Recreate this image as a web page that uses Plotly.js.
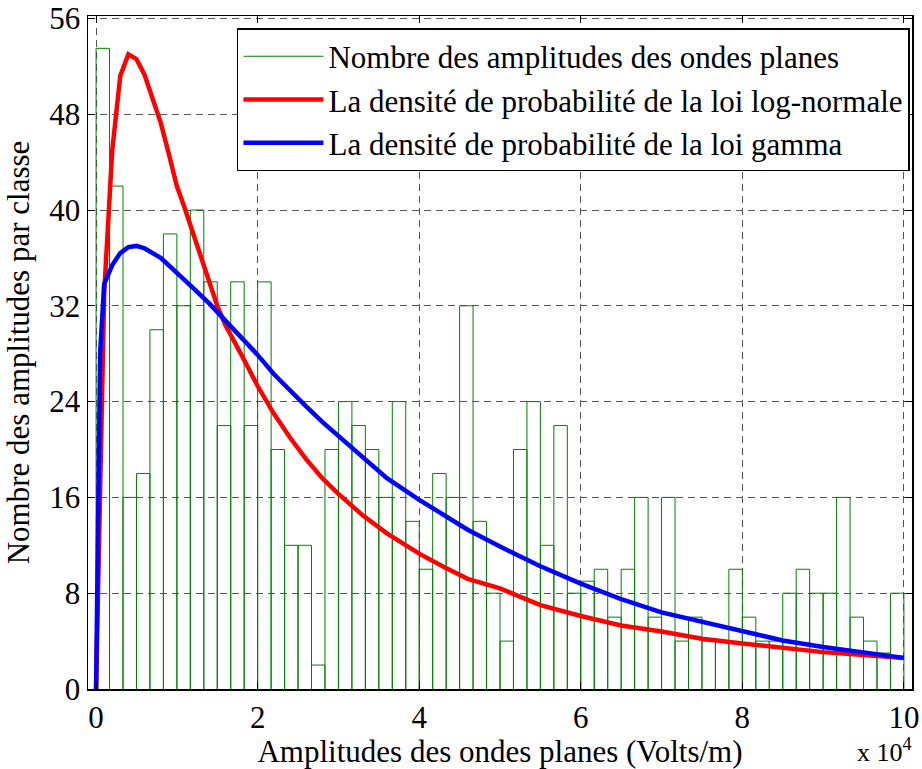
<!DOCTYPE html>
<html>
<head>
<meta charset="utf-8">
<script src="https://cdn.plot.ly/plotly-3.0.1.min.js"></script>
<style>
  html, body { margin: 0; padding: 0; background: #ffffff; }
  #chart { width: 922px; height: 769px; }
</style>
</head>
<body>
<div id="chart"></div>
<script>
// ---------------- data (x in units of 10^4 V/m) ----------------
const binStart = 0;          // left edge of first class
const binWidth = 1 / 6;      // class width
const classCounts = [
  53.5, 42, 16, 18, 30, 38, 32, 40, 34, 22,
  34, 22, 34, 20, 12, 12, 2, 20, 24, 22,
  20, 16, 24, 14, 10, 18, 16, 32, 14, 8,
  4, 20, 24, 12, 22, 8, 9, 10, 6, 10,
  16, 6, 16, 4, 6, 4, 4, 10, 6, 4,
  4, 8, 10, 8, 8, 16, 6, 4, 3, 8
];

const logNormX = [0, 0.1, 0.2, 0.3, 0.4, 0.5, 0.6, 0.7, 0.8, 0.9,
  1.0, 1.1, 1.2, 1.3, 1.4, 1.5, 1.6, 1.7, 1.8, 1.9,
  2.0, 2.2, 2.4, 2.6, 2.8, 3.0, 3.3, 3.6, 4.0, 4.3,
  4.6, 5.0, 5.5, 6.0, 6.5, 7.0, 7.5, 8.0, 8.5, 9.0, 9.5, 10.0];
const logNormY = [0, 33, 45, 51.2, 53, 52.6, 51.3, 49.3, 47.3, 44.7,
  42.0, 40.1, 38.1, 35.9, 33.9, 32.0, 30.4, 29.2, 27.9, 26.6,
  25.3, 23.0, 21.0, 19.2, 17.6, 16.3, 14.5, 13.0, 11.3, 10.2,
  9.2, 8.4, 7.0, 6.1, 5.3, 4.8, 4.2, 3.8, 3.4, 3.08, 2.83, 2.58];

const gammaX = [0, 0.05, 0.1, 0.2, 0.3, 0.4, 0.5, 0.6, 0.8, 1.0,
  1.2, 1.4, 1.6, 1.8, 2.0, 2.2, 2.4, 2.6, 2.8, 3.0,
  3.3, 3.6, 4.0, 4.3, 4.6, 5.0, 5.5, 6.0, 6.5, 7.0,
  7.5, 8.0, 8.5, 9.0, 9.5, 10.0];
const gammaY = [0, 28, 33.8, 35.4, 36.4, 36.9, 37.0, 36.8, 36.0, 34.8,
  33.5, 32.2, 30.8, 29.4, 27.9, 26.3, 24.9, 23.6, 22.3, 21.1,
  19.3, 17.6, 15.8, 14.5, 13.3, 11.9, 10.25, 8.8, 7.5, 6.4,
  5.6, 4.8, 4.05, 3.5, 3.03, 2.6];

const xTickVals = [0, 2, 4, 6, 8, 10];
const xTickText = ['0', '2', '4', '6', '8', '10'];
const yTickVals = [0, 8, 16, 24, 32, 40, 48, 56];
const yTickText = ['0', '8', '16', '24', '32', '40', '48', '56'];

const legendNames = [
  'Nombre des amplitudes des ondes planes',
  'La densité de probabilité de la loi log-normale',
  'La densité de probabilité de la loi gamma'
];

// ---------------- histogram outlines built from the counts ----------------
const histX = [], histY = [];
classCounts.forEach(function (c, i) {
  const a = binStart + i * binWidth, b = a + binWidth;
  histX.push(a, a, b, b, null);
  histY.push(0, c, c, 0, null);
});

const FONT = 'Liberation Serif, Times New Roman, serif';
const FS = 31;

const traces = [
  {
    type: 'scatter', mode: 'lines', x: histX, y: histY,
    name: legendNames[0], connectgaps: false,
    line: { color: '#008000', width: 1 }, hoverinfo: 'skip'
  },
  {
    type: 'scatter', mode: 'lines', x: logNormX, y: logNormY,
    name: legendNames[1], line: { color: '#ff0000', width: 4.5 }
  },
  {
    type: 'scatter', mode: 'lines', x: gammaX, y: gammaY,
    name: legendNames[2], line: { color: '#0000ff', width: 4.5 }
  }
];

const layout = {
  width: 922, height: 769,
  margin: { l: 88, r: 10, t: 16, b: 80 },
  paper_bgcolor: '#ffffff', plot_bgcolor: '#ffffff',
  font: { family: FONT, size: FS, color: '#000000' },
  showlegend: true,
  legend: {
    x: 0.9975, y: 0.982, xanchor: 'right', yanchor: 'top',
    bgcolor: '#ffffff', bordercolor: '#000000', borderwidth: 1.5,
    font: { family: FONT, size: FS, color: '#000000' },
    itemwidth: 80, tracegroupgap: 0
  },
  xaxis: {
    range: [-0.1, 10.1], tickmode: 'array', tickvals: xTickVals, ticktext: xTickText,
    showline: true, linecolor: '#000000', linewidth: 1.5, mirror: 'allticks',
    ticks: 'inside', ticklen: 7, tickcolor: '#000000',
    showgrid: true, gridcolor: '#555555', gridwidth: 1, griddash: '7px,5px',
    zeroline: false,
    tickfont: { family: FONT, size: FS },
    title: { text: 'Amplitudes des ondes planes (Volts/m)', font: { family: FONT, size: FS }, standoff: 6 }
  },
  yaxis: {
    range: [0, 56.2], tickmode: 'array', tickvals: yTickVals, ticktext: yTickText,
    showline: true, linecolor: '#000000', linewidth: 1.5, mirror: 'allticks',
    ticks: 'inside', ticklen: 7, tickcolor: '#000000',
    showgrid: true, gridcolor: '#555555', gridwidth: 1, griddash: '7px,5px',
    zeroline: false,
    tickfont: { family: FONT, size: FS },
    title: { text: 'Nombre des amplitudes par classe', font: { family: FONT, size: FS }, standoff: 10 }
  },
  annotations: [
    {
      xref: 'paper', yref: 'paper', x: 1.003, y: -0.1185, xanchor: 'right', yanchor: 'bottom',
      text: 'x 10<sup>4</sup>', showarrow: false,
      font: { family: FONT, size: 26, color: '#000000' }
    }
  ]
};

Plotly.newPlot('chart', traces, layout, { displayModeBar: false, staticPlot: true });
</script>
</body>
</html>
